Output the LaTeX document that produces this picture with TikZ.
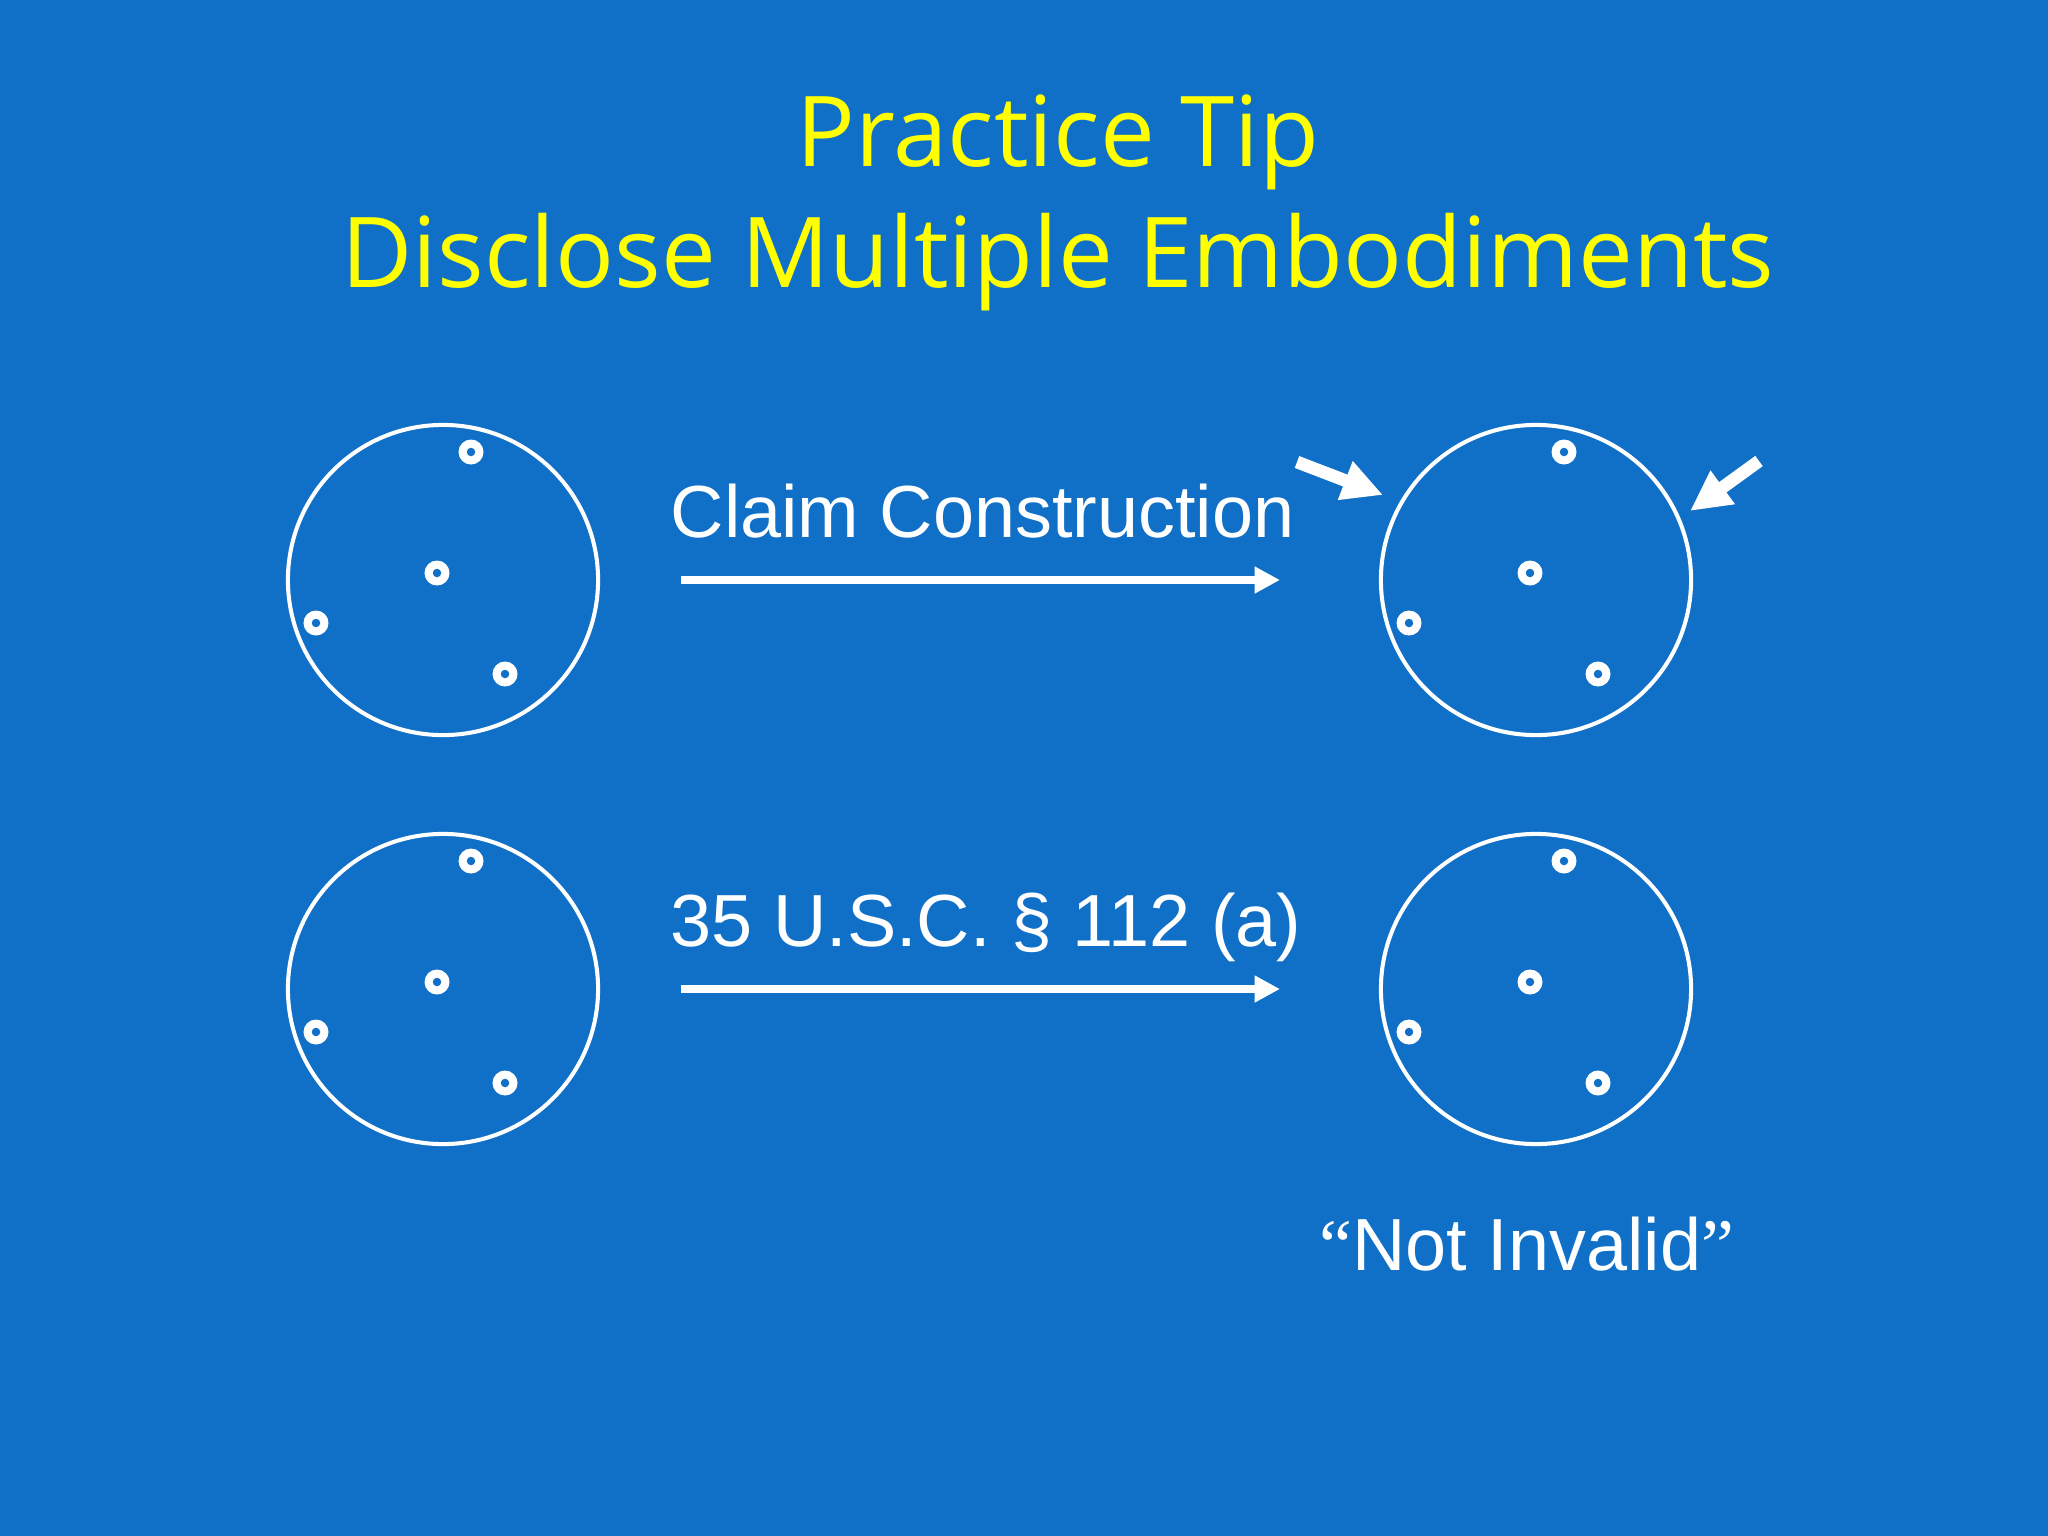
\documentclass[tikz,border=0pt]{standalone}
\usepackage{fontspec}
\setmainfont{Liberation Sans}
\newfontfamily\titlefont{Open Sans}
\newfontfamily\quotefont{Liberation Serif}
\usetikzlibrary{arrows.meta}
\definecolor{bg}{RGB}{16,111,198}
\definecolor{ttl}{RGB}{255,255,0}
\tikzset{
  disc/.style={circle, draw=white, line width=1.15pt, minimum size=3.1cm, inner sep=0pt},
  ringdot/.style={circle, fill=white, minimum size=0.25cm, inner sep=0pt},
  ringhole/.style={circle, fill=bg, minimum size=0.085cm, inner sep=0pt},
  lbl/.style={text=white, font=\fontsize{21}{25}\selectfont, inner sep=0pt},
  ttlstyle/.style={text=ttl, font=\titlefont\fontsize{27.8}{34}\selectfont, inner sep=0pt},
  mainarrow/.style={draw=white, line width=2.3pt, -{Triangle[length=7.2pt,width=7.2pt]}},
  fatarrow/.style={draw=white, line width=3.6pt, -{Triangle[length=11.5pt,width=11pt]}}
}
\newcommand{\embod}[3]{%
  \node[disc] (#1) at (#2,#3) {};
  \foreach \dx/\dy/\n in {28/-128/a, -6/-7/b, -127/43/c, 62/94/d} {
    \node[ringdot] (#1\n) at (#2+\dx,#3+\dy) {};
    \node[ringhole] at (#1\n) {};
  }
}
\begin{document}
\begin{tikzpicture}[x=0.01cm, y=-0.01cm]
\fill[bg] (0,0) rectangle (2048,1536);
\useasboundingbox (0,0) rectangle (2048,1536);
% title
\node[ttlstyle, anchor=base] (t1) at (1058,166) {Practice Tip};
\node[ttlstyle, anchor=base] (t2) at (1058,287) {Disclose Multiple Embodiments};
% circles
\embod{ca}{443}{580}
\embod{cb}{1536}{580}
\embod{cc}{443}{989}
\embod{cd}{1536}{989}
% labels
\node[lbl, anchor=base west] (l1) at (670,537) {Claim Construction};
\node[lbl, anchor=base west] (l2) at (670,946) {35 U.S.C. § 112 (a)};
\node[lbl, anchor=base west] (l3) at (1319,1270) {{\quotefont “}Not Invalid{\quotefont ”}};
% main arrows
\coordinate (a1s) at (681,580);
\coordinate (a1e) at (1280,580);
\coordinate (a2s) at (681,989);
\coordinate (a2e) at (1280,989);
\draw[mainarrow] (a1s) -- (a1e);
\draw[mainarrow] (a2s) -- (a2e);
% pointer arrows
\coordinate (p1s) at (1297,462);
\coordinate (p1e) at (1383,495);
\coordinate (p2s) at (1759,461);
\coordinate (p2e) at (1690,511);
\draw[fatarrow] (p1s) -- (p1e);
\draw[fatarrow] (p2s) -- (p2e);
\end{tikzpicture}
\end{document}
